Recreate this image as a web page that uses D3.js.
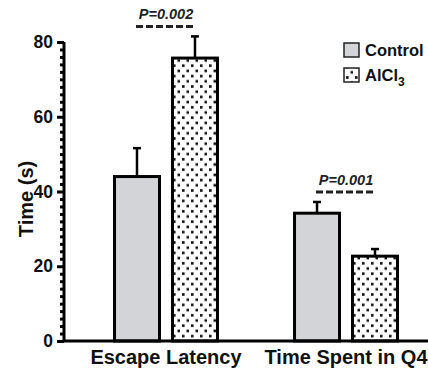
<!DOCTYPE html>
<html>
<head>
<meta charset="utf-8">
<script src="https://cdn.jsdelivr.net/npm/d3@7"></script>
<style>
  body { margin: 0; background: #fff; }
  svg { display: block; font-family: "Liberation Sans", Arial, sans-serif; }
</style>
</head>
<body>
<svg id="chart" width="428" height="370"></svg>
<script>
// data
const categories = ['Escape Latency', 'Time Spent in Q4'];
const groups = ['Control', 'AlCl3'];
const meanControl = [44, 34.2];
const errControl = [7.6, 3.0];
const meanAlcl3 = [75.7, 22.7];
const errAlcl3 = [5.8, 1.9];
const pLabels = ['P=0.002', 'P=0.001'];
const yTicks = [0, 20, 40, 60, 80];

const svg = d3.select('#chart');

const x = d3.scaleBand().domain(categories).range([74, 438]).paddingInner(0.428).paddingOuter(0.225);
const xs = d3.scaleBand().domain(groups).range([0, x.bandwidth()]).paddingInner(0.224).paddingOuter(0);
const y = d3.scaleLinear().domain([0, 80]).range([341, 42]);

// dotted pattern
const defs = svg.append('defs');
const pat = defs.append('pattern').attr('id', 'dots').attr('patternUnits', 'userSpaceOnUse')
  .attr('width', 9).attr('height', 10.4);
pat.append('rect').attr('width', 9).attr('height', 10.4).attr('fill', '#fff');
pat.append('rect').attr('x', 2).attr('y', 2).attr('width', 2.6).attr('height', 2.6).attr('fill', '#111');
pat.append('rect').attr('x', 6.5).attr('y', 7.2).attr('width', 2.6).attr('height', 2.6).attr('fill', '#111');

const fills = { Control: '#d2d4d7', AlCl3: 'url(#dots)' };

const rows = [];
categories.forEach((c, i) => {
  rows.push({ cat: c, grp: 'Control', v: meanControl[i], e: errControl[i] });
  rows.push({ cat: c, grp: 'AlCl3', v: meanAlcl3[i], e: errAlcl3[i] });
});

const g = svg.append('g');

// error bars
g.selectAll('line.err').data(rows).enter().append('line')
  .attr('x1', d => x(d.cat) + xs(d.grp) + xs.bandwidth() / 2)
  .attr('x2', d => x(d.cat) + xs(d.grp) + xs.bandwidth() / 2)
  .attr('y1', d => y(d.v)).attr('y2', d => y(d.v + d.e))
  .attr('stroke', '#000').attr('stroke-width', 2.5);
g.selectAll('line.cap').data(rows).enter().append('line')
  .attr('x1', d => x(d.cat) + xs(d.grp) + xs.bandwidth() / 2 - 4)
  .attr('x2', d => x(d.cat) + xs(d.grp) + xs.bandwidth() / 2 + 4)
  .attr('y1', d => y(d.v + d.e)).attr('y2', d => y(d.v + d.e))
  .attr('stroke', '#000').attr('stroke-width', 2.5);

g.selectAll('rect.bar').data(rows).enter().append('rect')
  .attr('x', d => x(d.cat) + xs(d.grp))
  .attr('y', d => y(d.v))
  .attr('width', xs.bandwidth())
  .attr('height', d => y(0) - y(d.v))
  .attr('fill', d => fills[d.grp])
  .attr('stroke', '#000').attr('stroke-width', 3);

// axes
const yAxis = g.append('g').attr('transform', 'translate(64,0)')
  .call(d3.axisLeft(y).tickValues(yTicks).tickSize(7).tickPadding(4));
yAxis.select('.domain').attr('stroke-width', 3).attr('d', 'M0,' + y(80) + 'V' + y(0));
yAxis.selectAll('.tick line').attr('stroke-width', 3);
yAxis.selectAll('.tick text').attr('font-size', 17.5).attr('font-weight', 'bold').attr('fill', '#111');
g.append('g').attr('transform', 'translate(64,0)')
  .call(d3.axisLeft(y).tickValues(d3.range(0, 81, 2).filter(v => v % 20 !== 0)).tickSize(4).tickFormat(''))
  .call(a => a.select('.domain').remove())
  .selectAll('.tick line').attr('stroke-width', 3);

const xAxis = g.append('g').attr('transform', 'translate(0,' + y(0) + ')')
  .call(d3.axisBottom(x).tickSize(0).tickPadding(9));
xAxis.select('.domain').attr('stroke-width', 3).attr('d', 'M63,0H428');
xAxis.selectAll('.tick text').attr('font-size', 20).attr('font-weight', 'bold').attr('fill', '#111');

// y title
svg.append('text').attr('transform', 'translate(33,' + y(38) + ') rotate(-90)')
  .attr('text-anchor', 'middle').attr('font-size', 20).attr('font-weight', 'bold').attr('fill', '#111')
  .text('Time (s)');

// significance labels
categories.forEach((c, i) => {
  const top = Math.max(meanControl[i] + errControl[i], meanAlcl3[i] + errAlcl3[i]);
  const cx = x(c) + x.bandwidth() / 2;
  const ly = y(top) - 10;
  svg.append('line').attr('x1', cx - 30).attr('x2', cx + 29).attr('y1', ly).attr('y2', ly)
    .attr('stroke', '#222').attr('stroke-width', 3).attr('stroke-dasharray', '7,3');
  svg.append('text').attr('x', cx).attr('y', ly - 7).attr('text-anchor', 'middle')
    .attr('font-size', 14.5).attr('font-weight', 'bold').attr('font-style', 'italic').attr('fill', '#222')
    .text(pLabels[i]);
});

// legend
const lg = svg.append('g').attr('transform', 'translate(344,43)');
groups.forEach((k, i) => {
  lg.append('rect').attr('x', 0).attr('y', i * 25).attr('width', 15).attr('height', 14)
    .attr('fill', fills[k]).attr('stroke', '#222').attr('stroke-width', 1.5);
  const t = lg.append('text').attr('x', 21).attr('y', i * 25 + 13)
    .attr('font-size', 16.5).attr('font-weight', 'bold').attr('fill', '#111');
  if (k === 'AlCl3') {
    t.text('AlCl');
    t.append('tspan').attr('font-size', 12).attr('dy', 5).text('3');
  } else {
    t.text(k);
  }
});
</script>
</body>
</html>
